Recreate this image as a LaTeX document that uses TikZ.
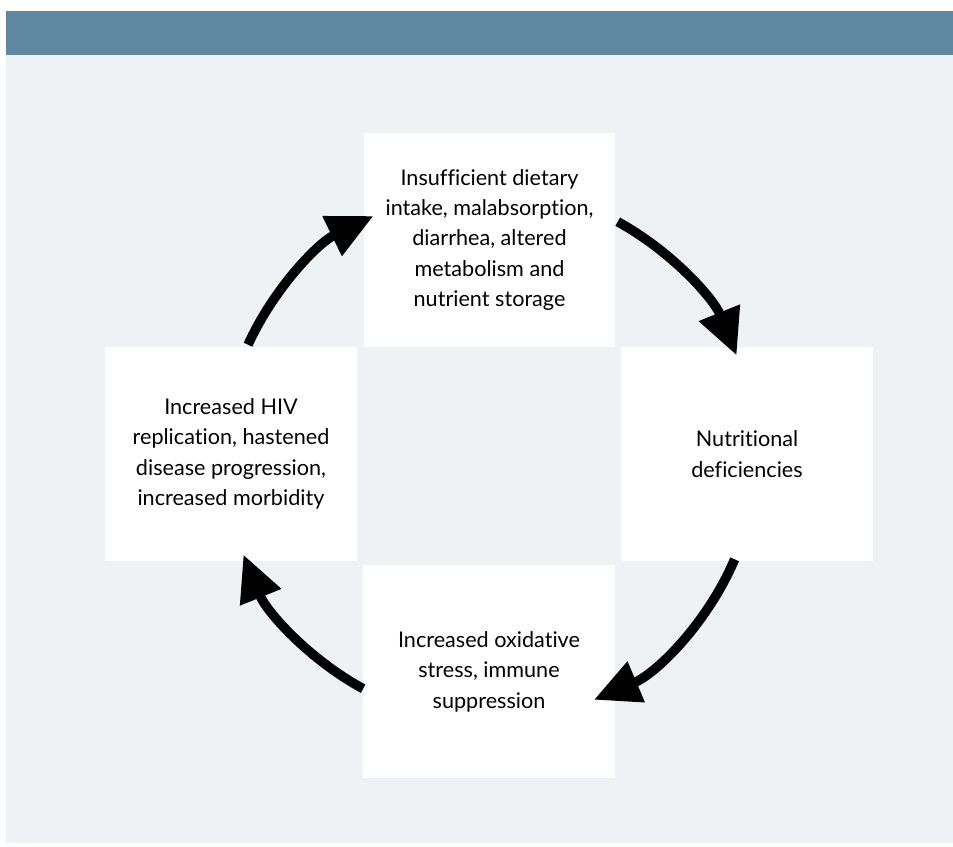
\documentclass[tikz,border=0pt]{standalone}
\usepackage{fontspec}
\setmainfont{Lato}[Ligatures=NoCommon]
\usetikzlibrary{arrows.meta}
\definecolor{headcol}{HTML}{5E87A0}
\definecolor{bodycol}{HTML}{EEF2F5}
\tikzset{
  box/.style={fill=white, draw=none, inner sep=0pt, minimum width=5.04cm, minimum height=4.28cm,
    align=center, font=\fontsize{12.3pt}{17.3pt}\selectfont},
  arr/.style={line width=0.19cm, -{Triangle[length=0.92cm,width=0.84cm]}}
}
\begin{document}
\begin{tikzpicture}[x=0.02cm,y=0.02cm]
\useasboundingbox (0,0) rectangle (953,846);
\fill[white] (0,0) rectangle (953,846);
\fill[bodycol] (6,3) rectangle (953,835);
\fill[headcol] (6,791) rectangle (953,835);
\node[box] (top) at (489.5,606) {Insufficient dietary\\intake, malabsorption,\\diarrhea, altered\\metabolism and\\nutrient storage};
\node[box] (right) at (747,392) {Nutritional\\deficiencies};
\node[box] (left) at (231,392) {Increased HIV\\replication, hastened\\disease progression,\\increased morbidity};
\node[box] (bottom) at (489,174.5) {Increased oxidative\\stress, immune\\suppression};
\coordinate (c) at (490,391);
\path (c) ++(61.3:5.32cm) coordinate (s1);
\path (c) ++(-23.1:5.32cm) coordinate (s2);
\path (c) ++(241.5:5.32cm) coordinate (s3);
\path (c) ++(155.5:5.32cm) coordinate (s4);
\draw[arr] (s1) arc[start angle=61.3, end angle=22, radius=5.32cm];
\draw[arr] (s2) arc[start angle=-23.1, end angle=-67, radius=5.32cm];
\draw[arr] (s3) arc[start angle=241.5, end angle=202, radius=5.32cm];
\draw[arr] (s4) arc[start angle=155.5, end angle=116, radius=5.32cm];
\end{tikzpicture}
\end{document}
